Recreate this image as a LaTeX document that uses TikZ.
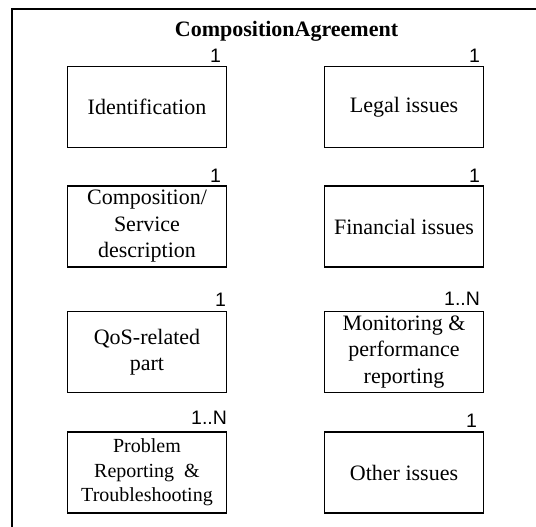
\documentclass[tikz,border=0pt]{standalone}
\usepackage{fontspec}
\setmainfont{Liberation Serif}
\newfontfamily\multfont{Liberation Sans}
\usetikzlibrary{calc}
\tikzset{
  part/.style={draw, line width=1.3pt, minimum width=159pt, minimum height=81pt,
    inner sep=0pt, align=center, font=\fontsize{22}{26.5}\selectfont},
  mult/.style={anchor=base east, inner sep=0pt, font=\multfont\fontsize{19.5}{20}\selectfont},
  frame/.style={line width=2pt}
}
\begin{document}
\begin{tikzpicture}[x=1pt,y=-1pt]
  \useasboundingbox (0,0) rectangle (536,527);
  % enclosing class frame (only its top and left sides fall in view)
  \coordinate (fbl) at (12,527);
  \coordinate (ftl) at (12,9.5);
  \coordinate (ftr) at (536,9.5);
  \draw[frame] (fbl) -- (ftl) -- (ftr);
  \node[font=\bfseries\fontsize{22}{26}\selectfont, anchor=base] (title) at (286.5,37) {CompositionAgreement};

  % parts
  \node[part] (id)    at (147,107)   {Identification};
  \node[part] (legal) at (404,107)   {Legal issues};
  \node[part] (comp)  at (147,226.5) {Composition/\\Service\\description};
  \node[part] (fin)   at (404,226.5) {Financial issues};
  \node[part] (qos)   at (147,352)   {QoS-related\\part};
  \node[part] (mon)   at (404,352)   {Monitoring \&\\performance\\reporting};
  \node[part, font=\fontsize{20}{24.5}\selectfont] (prob) at (147,472.5)
    {Problem\\Reporting\hspace{5pt} \&\\Troubleshooting};
  \node[part] (other) at (404,472.5) {Other issues};

  % multiplicities
  \node[mult] (m1) at ($(id.north east)+(-6,-3)$)    {1};
  \node[mult] (m2) at ($(legal.north east)+(-4,-3)$) {1};
  \node[mult] (m3) at ($(comp.north east)+(-6,-3)$)  {1};
  \node[mult] (m4) at ($(fin.north east)+(-4,-3)$)   {1};
  \node[mult] (m5) at ($(qos.north east)+(-1,-4)$)   {1};
  \node[mult] (m6) at ($(mon.north east)+(-4,-5)$)   {1..N};
  \node[mult] (m7) at ($(prob.north east)+(0,-7)$)   {1..N};
  \node[mult] (m8) at ($(other.north east)+(-7,-4)$) {1};
\end{tikzpicture}
\end{document}
